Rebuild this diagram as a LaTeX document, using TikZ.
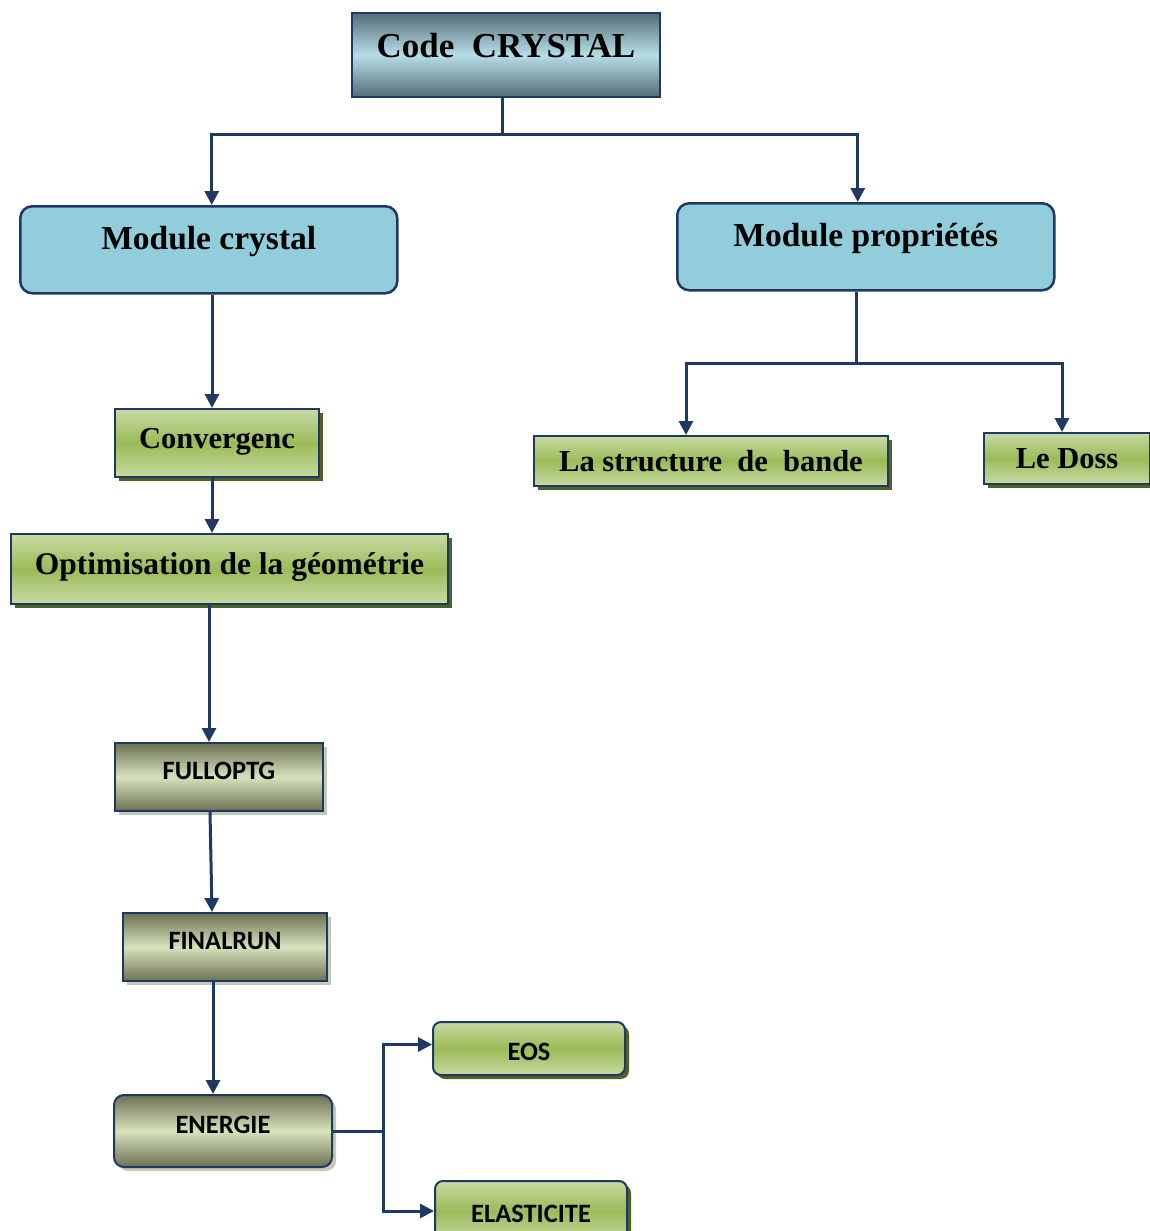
\documentclass[tikz,border=0pt]{standalone}
\usepackage{fontspec}
\setmainfont{Liberation Serif}
\newfontfamily\calibri{Carlito}
\usetikzlibrary{arrows.meta, shadows}
\definecolor{linecol}{RGB}{31, 56, 100}
\definecolor{modblue}{RGB}{146, 205, 220}
\definecolor{slatedark}{RGB}{84, 108, 118}
\definecolor{slatelight}{RGB}{183, 222, 232}
\definecolor{greenlight}{RGB}{200, 218, 162}
\definecolor{greenmid}{RGB}{155, 187, 89}
\definecolor{greenshadow}{RGB}{79, 98, 40}
\definecolor{olivedark}{RGB}{108, 112, 84}
\definecolor{olivelight}{RGB}{214, 227, 188}
\definecolor{oliveshadow}{RGB}{196, 201, 184}

\begin{document}
\begin{tikzpicture}[x=1pt, y=-1pt,
    box/.style={draw=linecol, line width=2pt, anchor=north west, inner sep=0pt, align=center},
    codebox/.style={box, top color=slatedark, bottom color=slatedark, middle color=slatelight,
        text height=26pt, text depth=20pt, font=\bfseries\fontsize{35}{40}\selectfont},
    modbox/.style={box, fill=modblue, rounded corners=12pt, line width=2.5pt,
        text height=20pt, text depth=20pt, font=\bfseries\fontsize{33.5}{38}\selectfont},
    greenbox/.style={box, top color=greenlight, bottom color=greenlight, middle color=greenmid,
        drop shadow={shadow xshift=4pt, shadow yshift=-4pt, fill=greenshadow, opacity=1},
        font=\bfseries\fontsize{30.5}{35}\selectfont},
    raised/.style={text height=22pt, text depth=12pt},
    olivebox/.style={box, top color=olivedark, bottom color=olivedark, middle color=olivelight,
        drop shadow={shadow xshift=4pt, shadow yshift=-4pt, fill=oliveshadow, opacity=1},
        text height=17pt, text depth=12pt, font=\calibri\bfseries\fontsize{26.5}{30}\selectfont},
    sansgreen/.style={greenbox, rounded corners=8pt,
        text height=23pt, text depth=0pt, font=\calibri\bfseries\fontsize{26.5}{30}\selectfont},
    link/.style={line width=3pt, draw=linecol},
    arr/.style={link, -{Triangle[length=14pt, width=14pt]}}]
    \useasboundingbox (0,0) rectangle (1150,1231);

    % Boxes
    \node[codebox, minimum width=308pt, minimum height=84pt] (code) at (351,12) {Code\ \ CRYSTAL};
    \node[modbox, minimum width=377pt, minimum height=87pt] (modcryst) at (19,205) {Module crystal};
    \node[modbox, minimum width=377pt, minimum height=87pt] (modprop) at (676,202) {Module propriétés};

    \node[greenbox, raised, minimum width=204pt, minimum height=68pt] (conv) at (114,408) {Convergenc};
    \node[greenbox, raised, minimum width=437pt, minimum height=70pt, font=\bfseries\fontsize{31.5}{36}\selectfont] (optim) at (10,533) {Optimisation de la géométrie};
    \node[greenbox, minimum width=354pt, minimum height=50pt] (band) at (533,435) {La structure\ \ de\ \ bande};
    \node[greenbox, minimum width=166pt, minimum height=51pt] (doss) at (983,432) {Le Doss};

    \node[olivebox, minimum width=208pt, minimum height=68pt] (fullopt) at (114,742) {FULLOPTG};
    \node[olivebox, minimum width=204pt, minimum height=68pt] (finalrun) at (122,912) {FINALRUN};
    \node[olivebox, rounded corners=10pt, minimum width=218pt, minimum height=72pt] (energie) at (113,1094) {ENERGIE};

    \node[sansgreen, minimum width=192pt, minimum height=53pt] (eos) at (432,1021) {EOS};
    \node[sansgreen, minimum width=192pt, minimum height=60pt] (elast) at (434,1180) {ELASTICITE};

    % Forks
    \coordinate (topfork) at (502,134);
    \coordinate (spine) at (212,0);
    \coordinate (pfork) at (856,363);
    \coordinate (efork) at (383,0);

    % Connectors
    \draw[link] (code.south -| topfork) -- (topfork);
    \draw[arr] (topfork) -| ([xshift=3pt]modcryst.north);
    \draw[arr] (topfork) -| ([xshift=-8pt]modprop.north);

    \draw[arr] (modcryst.south -| spine) -- (conv.north -| spine);
    \draw[arr] (conv.south -| spine) -- (optim.north -| spine);
    \draw[arr] ([xshift=-3pt]optim.south -| spine) -- ([xshift=-3pt]fullopt.north -| spine);
    \draw[arr] ([xshift=-2pt]fullopt.south -| spine) -- (finalrun.north -| spine);
    \draw[arr] ([xshift=1pt]finalrun.south -| spine) -- ([xshift=1pt]energie.north -| spine);

    \draw[link] (modprop.south -| pfork) -- (pfork);
    \draw[arr] (pfork) -| ([xshift=-25pt]band.north);
    \draw[arr] (pfork) -| ([xshift=-5pt]doss.north);

    \draw[link] (energie.east) -- (energie.east -| efork);
    \draw[arr] (energie.east -| efork) |- ([yshift=4pt]eos.west);
    \draw[arr] (energie.east -| efork) |- (elast.west);
\end{tikzpicture}
\end{document}
